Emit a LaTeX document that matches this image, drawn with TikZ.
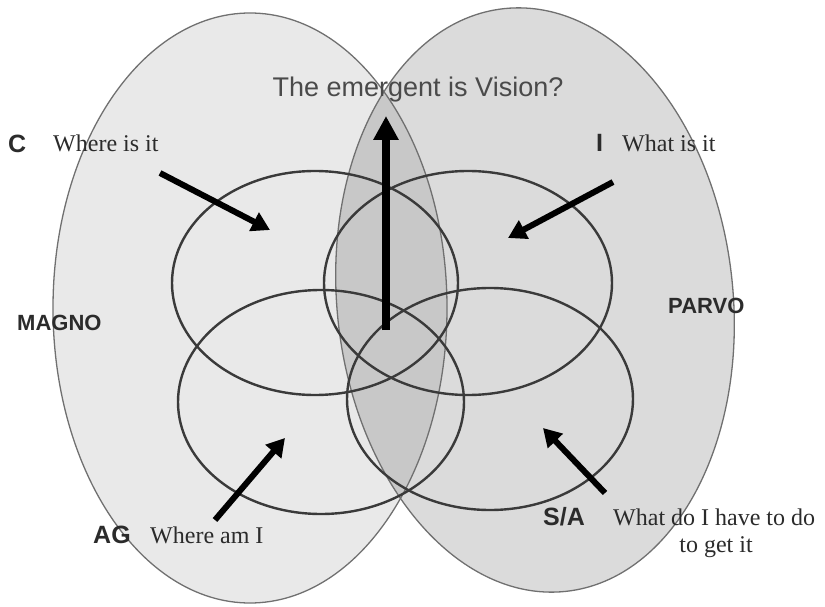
\documentclass[tikz,border=0pt]{standalone}
\usepackage{fontspec}
\setmainfont{Liberation Serif}
\setsansfont{Liberation Sans}
\usetikzlibrary{arrows.meta}
\definecolor{magnofill}{HTML}{E9E9E9}
\definecolor{parvofill}{HTML}{DBDBDB}
\definecolor{lensfill}{HTML}{C8C8C8}
\definecolor{rimgray}{HTML}{707070}
\definecolor{ringgray}{HTML}{3A3A3A}
\definecolor{textgray}{HTML}{2B2B2B}
\definecolor{titlegray}{HTML}{4A4A4A}

\begin{document}
\begin{tikzpicture}[
  x=1pt, y=-1pt,
  rim/.style={draw=rimgray, line width=1.3pt},
  ring/.style={draw=ringgray, line width=2.4pt},
  pointer/.style={-{Triangle[length=18pt,width=20pt]}, line width=6pt},
  tag/.style={font=\sffamily\bfseries\fontsize{25}{28}\selectfont, text=textgray, inner sep=0pt, anchor=base west},
  side/.style={font=\sffamily\bfseries\fontsize{22}{26}\selectfont, text=textgray, inner sep=0pt, anchor=base west},
  note/.style={font=\fontsize{24}{28}\selectfont, text=textgray, inner sep=0pt, anchor=base west}
]
\useasboundingbox (0,0) rectangle (825,607);

% the two large fields
\fill[magnofill] (250,308) ellipse [x radius=197, y radius=295];
\fill[parvofill, rotate around={6:(535,300)}] (535,300) ellipse [x radius=198, y radius=293];
\begin{scope}
  \clip[rotate around={6:(535,300)}] (535,300) ellipse [x radius=198, y radius=293];
  \fill[lensfill] (250,308) ellipse [x radius=197, y radius=295];
\end{scope}
\draw[rim] (250,308) ellipse [x radius=197, y radius=295];
\draw[rim, rotate around={6:(535,300)}] (535,300) ellipse [x radius=198, y radius=293];

% the four rings
\draw[ring] (315,283) ellipse [x radius=143, y radius=112];
\draw[ring] (468,283) ellipse [x radius=144, y radius=112];
\draw[ring] (321,402) ellipse [x radius=143, y radius=112];
\draw[ring] (490,399) ellipse [x radius=143, y radius=111];

\coordinate (cfrom) at (160,173);  \coordinate (cto) at (270,230);
\coordinate (ifrom) at (613,182);  \coordinate (ito) at (508,238);
\coordinate (agfrom) at (215,520); \coordinate (agto) at (285,438);
\coordinate (safrom) at (605,493); \coordinate (sato) at (543,428);
\coordinate (vfrom) at (386,330);  \coordinate (vto) at (386,116);

\draw[pointer] (cfrom) -- (cto);
\draw[pointer] (ifrom) -- (ito);
\draw[pointer] (agfrom) -- (agto);
\draw[pointer] (safrom) -- (sato);
\draw[-{Triangle[length=24pt,width=24pt]}, line width=8pt] (vfrom) -- (vto);

\node[anchor=base, inner sep=0pt, text=titlegray, font=\sffamily\fontsize{27}{30}\selectfont] (title) at (418,97) {The emergent is Vision?};
\node[tag] (c) at (8,153) {C};
\node[note] (cnote) at (53,152) {Where is it};
\node[tag] (i) at (596,152) {I};
\node[note] (inote) at (622,152) {What is it};
\node[side] (magno) at (17,330) {MAGNO};
\node[side] (parvo) at (668,313) {PARVO};
\node[tag] (ag) at (93,543) {AG};
\node[note] (agnote) at (150,543) {Where am I};
\node[tag] (sa) at (543,525) {S/A};
\node[note] (sanote) at (613,525) {What do I have to do};
\node[note, anchor=base] (sanote2) at (716,552) {to get it};
\end{tikzpicture}
\end{document}
